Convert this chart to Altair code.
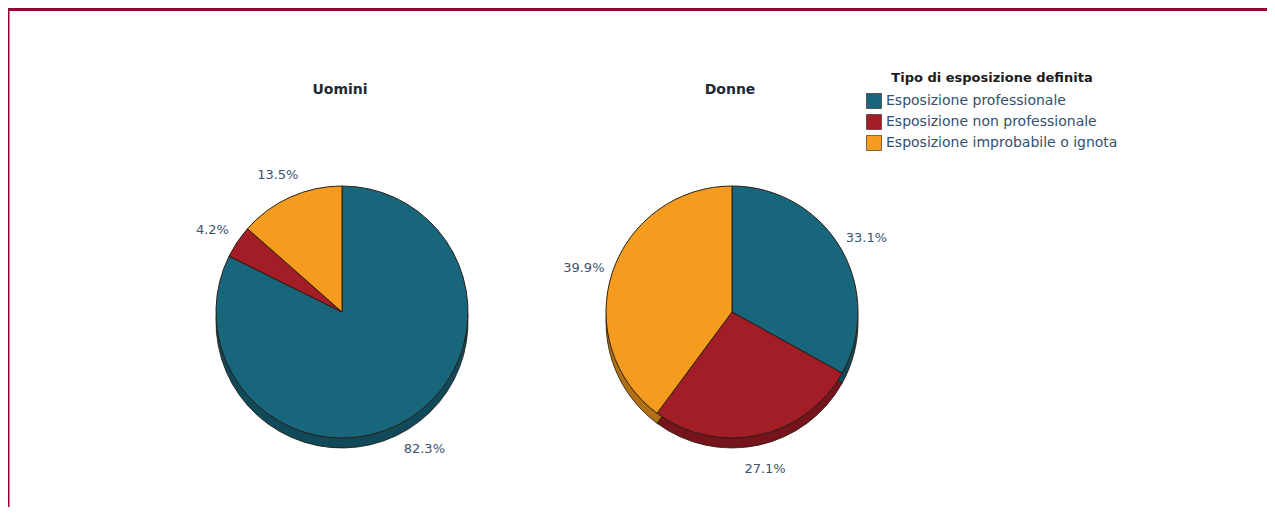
import altair as alt
import pandas as pd

genders = ["Uomini", "Donne"]
categories = [
    "Esposizione professionale",
    "Esposizione non professionale",
    "Esposizione improbabile o ignota",
]
uomini_values = [82.3, 4.2, 13.5]
donne_values = [33.1, 27.1, 39.9]
legend_title = "Tipo di esposizione definita"

colors = ["#17667c", "#a21d26", "#f59b1d"]

rows = []
for g, vals in zip(genders, [uomini_values, donne_values]):
    for i, (c, v) in enumerate(zip(categories, vals)):
        rows.append({"genere": g, "categoria": c, "valore": v, "ordine": i})
df = pd.DataFrame(rows)

W, H = 1259, 499
R = 126
CY = 304
DEPTH = 10
centers = {"Uomini": 334, "Donne": 724}
FONT = "DejaVu Sans"

color_scale = alt.Scale(domain=categories, range=colors)
base = alt.Chart(df)


def pie_layers(g, cx, with_legend):
    b = base.transform_filter(alt.datum.genere == g).transform_calculate(
        etichetta=alt.expr.format(alt.datum.valore, ".1f") + "%"
    )
    theta = alt.Theta("valore:Q", stack=True)
    order = alt.Order("ordine:Q")
    col = alt.Color("categoria:N", scale=color_scale)
    if with_legend:
        col = alt.Color(
            "categoria:N",
            scale=color_scale,
            legend=alt.Legend(
                title=legend_title,
                orient="none",
                legendX=858,
                legendY=64,
                titleFont=FONT,
                titleFontSize=13,
                titleFontWeight="bold",
                titleColor="#1b1b1b",
                titleAnchor="middle",
                titlePadding=8,
                titleLimit=0,
                labelFont=FONT,
                labelFontSize=14,
                labelColor="#34506e",
                labelOffset=4,
                labelLimit=0,
                symbolType="square",
                symbolSize=225,
                symbolStrokeColor="#222222",
                symbolStrokeWidth=0.6,
                symbolOpacity=1,
                rowPadding=3,
                padding=0,
            ),
        )
    shadow = b.mark_arc(outerRadius=R, stroke="#2a1f14", strokeWidth=0.8).encode(
        theta=theta, order=order, color=col, x=alt.value(cx), y=alt.value(CY + DEPTH)
    )
    shade = b.mark_arc(outerRadius=R, fill="black", fillOpacity=0.28, strokeWidth=0).encode(
        theta=theta, order=order, x=alt.value(cx), y=alt.value(CY + DEPTH)
    )
    top = b.mark_arc(outerRadius=R, stroke="#2a1f14", strokeWidth=1).encode(
        theta=theta, order=order, color=col, x=alt.value(cx), y=alt.value(CY)
    )
    labels = b.mark_text(
        radius=156, dy=5, font=FONT, fontSize=13, color="#3a5470"
    ).encode(
        theta=theta, order=order, text="etichetta:N", x=alt.value(cx), y=alt.value(CY)
    )
    title = (
        alt.Chart(pd.DataFrame({"genere": [g]}))
        .mark_text(font=FONT, fontSize=14, fontWeight="bold", color="#1e2a36")
        .encode(text="genere:N", x=alt.value(cx - 2), y=alt.value(82))
    )
    return [shadow, shade, top, labels, title]


one = pd.DataFrame({"k": [0]})
banner = alt.Chart(one).mark_rect(color="#9b0032").encode(
    x=alt.value(0), x2=alt.value(W), y=alt.value(0), y2=alt.value(3)
)
side = alt.Chart(one).mark_rect(color="#9b0032").encode(
    x=alt.value(0), x2=alt.value(1.5), y=alt.value(0), y2=alt.value(H)
)

layers = [banner, side]
layers += pie_layers("Uomini", centers["Uomini"], True)
layers += pie_layers("Donne", centers["Donne"], False)

chart = (
    alt.layer(*layers)
    .resolve_scale(theta="independent")
    .properties(
        width=W,
        height=H,
        padding=0,
        background="white",
        autosize=alt.AutoSizeParams(type="fit", contains="padding"),
    )
    .configure_view(stroke=None)
)

chart.save("out.html", embed_options={"renderer": "svg", "actions": False})
